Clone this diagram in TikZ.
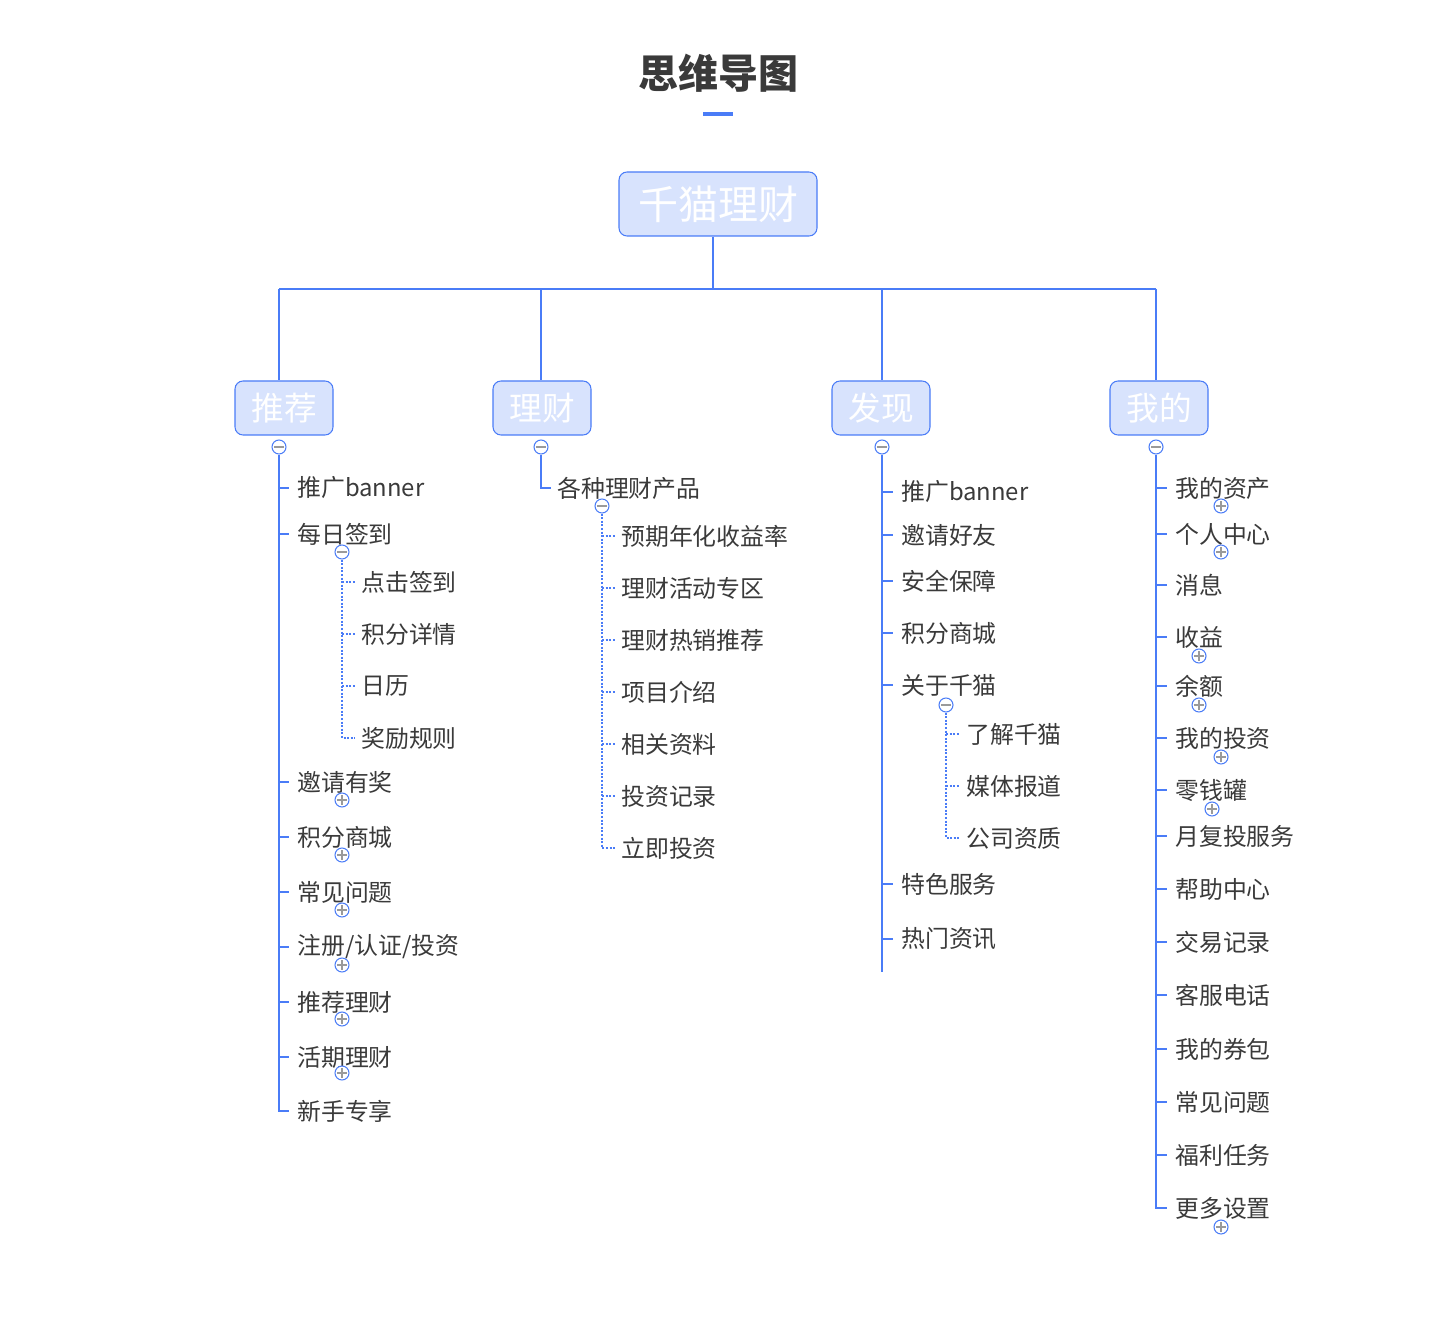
\documentclass[tikz,border=0pt]{standalone}
\usepackage{fontspec}
\setmainfont{Noto Sans CJK SC}
\usetikzlibrary{positioning}
\definecolor{mapblue}{HTML}{4A7CF7}
\definecolor{boxfill}{HTML}{D8E3FD}
\definecolor{itemgray}{HTML}{3A3A3A}
\definecolor{signgray}{HTML}{9A9A9A}

\begin{document}
\begin{tikzpicture}[x=0.75pt, y=-0.75pt,
    root/.style={draw=mapblue, fill=boxfill, rounded corners=6pt, line width=0.8pt, minimum width=148.5pt, minimum height=48pt, text=white, font=\fontsize{30}{30}\selectfont},
    cat/.style={draw=mapblue, fill=boxfill, rounded corners=6pt, line width=0.8pt, minimum width=73.5pt, minimum height=40.5pt, text=white, font=\fontsize{24.5}{24.5}\selectfont},
    item/.style={anchor=west, inner sep=0pt, text=itemgray, font=\fontsize{17.9}{17.9}\selectfont},
    line/.style={draw=mapblue, line width=1.5pt},
    dotline/.style={draw=mapblue, line width=1pt, dash pattern=on 1.5pt off 1.2pt},
    fold/.style={circle, draw=mapblue, fill=white, line width=0.8pt, minimum size=10.5pt, inner sep=0pt},
    minus/.style={fold, path picture={\draw[signgray, line width=1pt] ([xshift=1.5pt]path picture bounding box.west) -- ([xshift=-1.5pt]path picture bounding box.east);}},
    plus/.style={fold, path picture={\draw[signgray, line width=1pt] ([xshift=1.5pt]path picture bounding box.west) -- ([xshift=-1.5pt]path picture bounding box.east) ([yshift=-1.5pt]path picture bounding box.north) -- ([yshift=1.5pt]path picture bounding box.south);}}]
\useasboundingbox (0,0) rectangle (1440,1341);

% title
\node[text=itemgray, font=\fontsize{30}{30}\selectfont\bfseries] (title) at (718,73) {思维导图};
\fill[mapblue] (703,112) rectangle (733,116);

% root and main branches
\node[root] (root) at (718,204) {千猫理财};
\node[cat] (tj) at (284,408) {推荐};
\node[cat] (lc) at (542,408) {理财};
\node[cat] (fx) at (881,408) {发现};
\node[cat] (wd) at (1159,408) {我的};
\node[minus] (tjc) at (279,447) {};
\node[minus] (lcc) at (541,447) {};
\node[minus] (fxc) at (882,447) {};
\node[minus] (wdc) at (1156,447) {};

\coordinate (bus) at (713,289);
\draw[line] (root.south -| bus) -- (bus);
\draw[line] (tjc |- bus) -- (wdc |- bus);
\foreach \c/\b in {tjc/tj, lcc/lc, fxc/fx, wdc/wd}
  \draw[line] (\c |- bus) -- (\c |- \b.north);

% 推荐
\foreach \n/\y/\t in {t1/488/推广banner, t2/534/每日签到, t3/782/邀请有奖, t4/837/积分商城, t5/892/常见问题, t6/947/{注册/认证/投资}, t7/1002/推荐理财, t8/1057/活期理财, t9/1111/新手专享}
  \node[item] (\n) at (297,\y) {\t};
\foreach \n in {t1,t2,t3,t4,t5,t6,t7,t8}
  \draw[line] (tjc |- \n.west) -- ([xshift=-6pt]\n.west);
\draw[line] (tjc.south) -- (tjc |- t9.west) -- ([xshift=-6pt]t9.west);
\foreach \y in {800,855,910,965,1019,1073}
  \node[plus] at (342,\y) {};

\node[minus] (t2c) at (342,552) {};
\foreach \n/\y/\t in {t21/582/点击签到, t22/634/积分详情, t23/686/日历, t24/738/奖励规则}
  \node[item] (\n) at (361,\y) {\t};
\foreach \n in {t21,t22,t23}
  \draw[dotline] (t2c |- \n.west) -- ([xshift=-4.5pt]\n.west);
\draw[dotline] (t2c.south) -- (t2c |- t24.west) -- ([xshift=-4.5pt]t24.west);

% 理财
\node[item] (l1) at (557,488) {各种理财产品};
\draw[line] (lcc.south) -- (lcc |- l1.west) -- ([xshift=-4.5pt]l1.west);
\node[minus] (l1c) at (602,506) {};
\foreach \n/\y/\t in {l11/536/预期年化收益率, l12/588/理财活动专区, l13/640/理财热销推荐, l14/692/项目介绍, l15/744/相关资料, l16/796/投资记录, l17/848/立即投资}
  \node[item] (\n) at (621,\y) {\t};
\foreach \n in {l11,l12,l13,l14,l15,l16}
  \draw[dotline] (l1c |- \n.west) -- ([xshift=-4.5pt]\n.west);
\draw[dotline] (l1c.south) -- (l1c |- l17.west) -- ([xshift=-4.5pt]l17.west);

% 发现
\foreach \n/\y/\t in {f1/492/推广banner, f2/535/邀请好友, f3/581/安全保障, f4/633/积分商城, f5/685/关于千猫, f6/884/特色服务, f7/939/热门资讯}
  \node[item] (\n) at (901,\y) {\t};
\foreach \n in {f1,f2,f3,f4,f5,f6,f7}
  \draw[line] (fxc |- \n.west) -- ([xshift=-6pt]\n.west);
\coordinate (fxend) at (882,972);
\draw[line] (fxc.south) -- (fxend);

\node[minus] (f5c) at (946,705) {};
\foreach \n/\y/\t in {f51/734/了解千猫, f52/786/媒体报道, f53/838/公司资质}
  \node[item] (\n) at (966,\y) {\t};
\foreach \n in {f51,f52}
  \draw[dotline] (f5c |- \n.west) -- ([xshift=-4.5pt]\n.west);
\draw[dotline] (f5c.south) -- (f5c |- f53.west) -- ([xshift=-4.5pt]f53.west);

% 我的
\foreach \n/\y/\t in {w1/488/我的资产, w2/534/个人中心, w3/585/消息, w4/637/收益, w5/686/余额, w6/738/我的投资, w7/790/零钱罐, w8/836/月复投服务, w9/889/帮助中心, w10/942/交易记录, w11/995/客服电话, w12/1049/我的券包, w13/1102/常见问题, w14/1155/福利任务, w15/1208/更多设置}
  \node[item] (\n) at (1175,\y) {\t};
\foreach \n in {w1,w2,w3,w4,w5,w6,w7,w8,w9,w10,w11,w12,w13,w14}
  \draw[line] (wdc |- \n.west) -- ([xshift=-6pt]\n.west);
\draw[line] (wdc.south) -- (wdc |- w15.west) -- ([xshift=-6pt]w15.west);
\foreach \x/\y in {1221/506, 1221/552, 1199/656, 1199/705, 1221/757, 1212/809, 1221/1227}
  \node[plus] at (\x,\y) {};
\end{tikzpicture}
\end{document}
